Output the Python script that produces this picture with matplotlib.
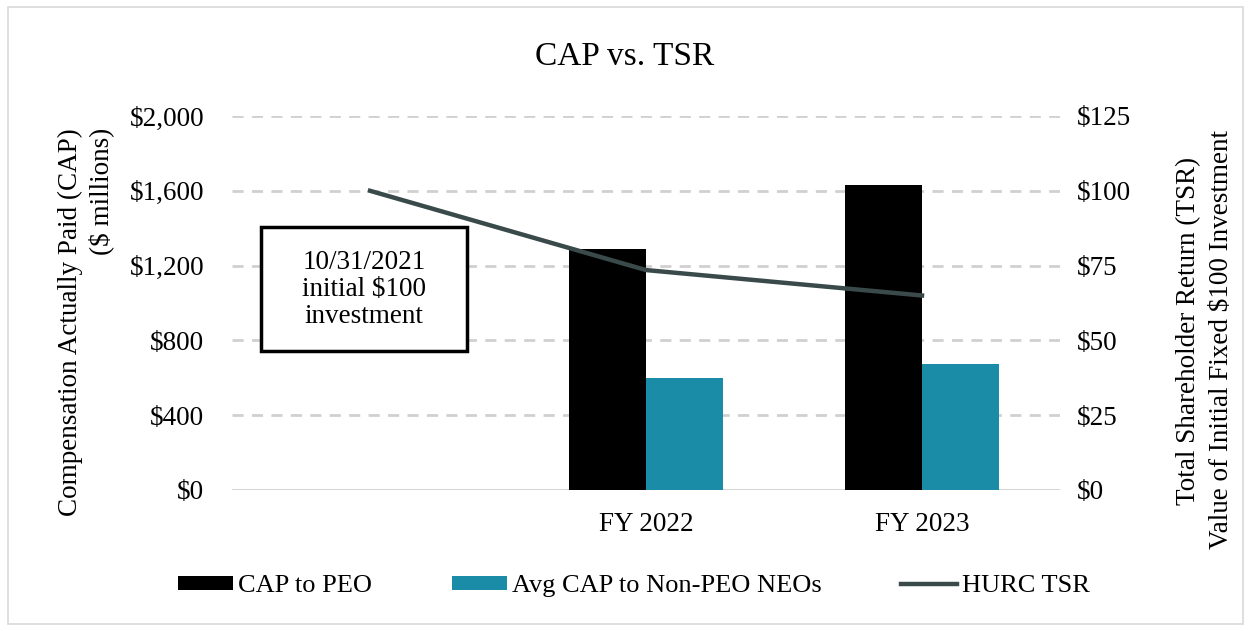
import numpy as np
import matplotlib.pyplot as plt
from matplotlib.patches import Rectangle

categories = ['', 'FY 2022', 'FY 2023']
cap_peo = [0, 1290, 1630]
cap_neo = [0, 600, 675]
tsr = [100, 73.5, 65]

plt.rcParams['font.family'] = 'Liberation Serif'
plt.rcParams['font.size'] = 19.5

fig = plt.figure(figsize=(12.5, 6.31), dpi=100)
fig.patches.append(Rectangle((0.006, 0.011), 0.988, 0.978, transform=fig.transFigure,
                             fill=False, edgecolor='#d9d9d9', lw=1.2))
ax1 = fig.add_axes([0.1856, 0.2235, 0.6624, 0.5927])
ax2 = ax1.twinx()

x = np.arange(len(categories))
w = 0.28
ax1.bar(x[1:] - w / 2, cap_peo[1:], w, color='black', label='CAP to PEO', zorder=3)
ax1.bar(x[1:] + w / 2, cap_neo[1:], w, color='#1a8ca8', label='Avg CAP to Non-PEO NEOs', zorder=3)
ax2.plot(x, tsr, color='#3a4a4a', lw=3.2, label='HURC TSR', zorder=4)

ax1.set_xlim(-0.5, 2.5)
ax1.set_ylim(0, 2000)
ax2.set_ylim(0, 125)
ax1.set_yticks(np.arange(0, 2001, 400))
ax1.set_yticklabels(['$0', '$400', '$800', '$1,200', '$1,600', '$2,000'])
ax2.set_yticks(np.arange(0, 126, 25))
ax2.set_yticklabels(['$0', '$25', '$50', '$75', '$100', '$125'])
ax1.set_xticks(x)
ax1.set_xticklabels(categories)

for a in (ax1, ax2):
    for s in a.spines.values():
        s.set_visible(False)
    a.tick_params(length=0, labelsize=19.5)
ax1.tick_params(axis='y', pad=20)
ax2.tick_params(axis='y', pad=12)
ax1.tick_params(axis='x', pad=16)

for v in np.arange(400, 2001, 400):
    ax1.axhline(v, color='#d0d0d0', lw=2, ls=(0, (4, 3)), zorder=1)
ax1.axhline(0, color='#d0d0d0', lw=2, zorder=2)

# axis titles placed by hand (second line of left title sits at the top)
fig.text(0.056, 0.797, 'Compensation Actually Paid (CAP)', rotation=90,
         ha='center', va='top', fontsize=19.5)
fig.text(0.081, 0.797, '($ millions)', rotation=90, ha='center', va='top', fontsize=19.5)
fig.text(0.951, 0.475, 'Total Shareholder Return (TSR)', rotation=90,
         ha='center', va='center', fontsize=19.5)
fig.text(0.977, 0.462, 'Value of Initial Fixed $100 Investment', rotation=90,
         ha='center', va='center', fontsize=19.5)

fig.text(0.5, 0.91, 'CAP vs. TSR', ha='center', va='center', fontsize=24)

ax1.add_patch(Rectangle((-0.395, 743), 0.746, 663, facecolor='white', edgecolor='black',
                        lw=2.5, zorder=5))
ax1.text(-0.022, 1070, '10/31/2021\ninitial $100\ninvestment', ha='center', va='center',
         fontsize=19.5, linespacing=1.1, zorder=6)

h1, l1 = ax1.get_legend_handles_labels()
h2, l2 = ax2.get_legend_handles_labels()
fig.legend(h1 + h2, l1 + l2, loc='center', bbox_to_anchor=(0.507, 0.071), ncol=3,
           frameon=False, fontsize=19, handlelength=2.1, handleheight=0.45,
           columnspacing=3.0, handletextpad=0.2)

fig.savefig('out.png', dpi=100)
